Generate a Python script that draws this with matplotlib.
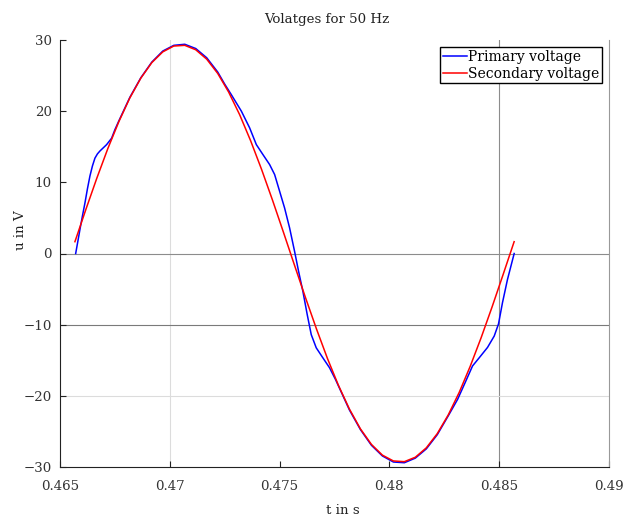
import matplotlib
matplotlib.use("Agg")
import matplotlib.pyplot as plt

plt.rcParams['font.family'] = ['DejaVu Serif']
plt.rcParams['font.size'] = 9.3

# secondary voltage samples (s, V)
t_sec = [0.46568, 0.46618, 0.46668, 0.46718, 0.46768, 0.46818, 0.46868, 0.46918,
         0.46968, 0.47018, 0.47068, 0.47118, 0.47168, 0.47218, 0.47268, 0.47318,
         0.47368, 0.47418, 0.47468, 0.47518, 0.47568, 0.47618, 0.47668, 0.47718,
         0.47768, 0.47818, 0.47868, 0.47918, 0.47968, 0.48018, 0.48068, 0.48118,
         0.48168, 0.48218, 0.48268, 0.48318, 0.48368, 0.48418, 0.48468, 0.48518,
         0.48568]
u_sec = [1.66, 6.21, 10.61, 14.76, 18.53, 21.86, 24.64, 26.82,
         28.33, 29.15, 29.25, 28.63, 27.31, 25.31, 22.68, 19.51,
         15.85, 11.81, 7.47, 2.94, -1.66, -6.21, -10.61, -14.76,
         -18.53, -21.86, -24.64, -26.82, -28.33, -29.15, -29.25, -28.63,
         -27.31, -25.31, -22.68, -19.51, -15.85, -11.81, -7.47, -2.94,
         1.66]

# primary voltage samples (s, V)
t_pri = [0.465714, 0.465818, 0.465909, 0.466023, 0.466136, 0.466250, 0.466364,
         0.466477, 0.466591, 0.466705, 0.466818, 0.467123, 0.467350, 0.467500,
         0.467682, 0.468182, 0.468682, 0.469182, 0.469682, 0.470182, 0.470682,
         0.471182, 0.471682, 0.472182, 0.472500, 0.472805, 0.473259, 0.473636,
         0.473941, 0.474241, 0.474545, 0.474773, 0.475000, 0.475227, 0.475455,
         0.475682, 0.475864, 0.476059, 0.476259, 0.476441, 0.476668, 0.476968,
         0.477273, 0.477545, 0.478182, 0.478682, 0.479182, 0.479682, 0.480182,
         0.480682, 0.481182, 0.481682, 0.482182, 0.482682, 0.483105, 0.483455,
         0.483786, 0.484091, 0.484468, 0.484773, 0.484968, 0.485150, 0.485377,
         0.485682]
u_pri = [0.0, 1.8, 3.4, 5.3, 7.1, 9.1, 10.9,
         12.3, 13.4, 14.0, 14.4, 15.3, 16.2, 17.4,
         18.65, 21.95, 24.7, 26.9, 28.45, 29.25, 29.4,
         28.8, 27.5, 25.5, 23.8, 22.3, 20.0, 17.65,
         15.3, 13.9, 12.5, 11.1, 8.75, 6.4, 3.6,
         0.3, -2.5, -5.3, -8.6, -11.4, -13.25, -14.65,
         -16.05, -17.7, -22.0, -24.75, -26.95, -28.45, -29.3,
         -29.4, -28.75, -27.45, -25.45, -22.8, -20.5, -18.1,
         -15.8, -14.65, -13.2, -11.6, -9.9, -6.9, -3.65,
         0.0]

x_ticks = [0.465, 0.47, 0.475, 0.48, 0.485, 0.49]
x_tick_labels = ['0.465', '0.47', '0.475', '0.48', '0.485', '0.49']
y_ticks = [-30, -20, -10, 0, 10, 20, 30]

fig = plt.figure(figsize=(6.32, 5.17), dpi=100)
ax = fig.add_axes([60 / 632, 1 - 467 / 517, 549 / 632, 427 / 517])

# grid lines as drawn by the export
ax.axvline(0.47, color='#dcdcdc', lw=0.8, zorder=0)
ax.axvline(0.485, color='#8c8c8c', lw=0.8, zorder=0)
ax.axhline(0, color='#8c8c8c', lw=0.8, zorder=0)
ax.axhline(-10, color='#7a7a7a', lw=0.8, zorder=0)
ax.axhline(-20, color='#dcdcdc', lw=0.8, zorder=0)

ax.plot(t_pri, u_pri, color='#0000ff', lw=1.1, label='Primary voltage')
ax.plot(t_sec, u_sec, color='#ff0000', lw=1.1, label='Secondary voltage')

ax.set_xlim(0.465, 0.49)
ax.set_ylim(-30, 30)
ax.set_xticks(x_ticks)
ax.set_xticklabels(x_tick_labels)
ax.set_yticks(y_ticks)
ax.tick_params(direction='in', length=4, width=0.8, color='#222222',
               labelcolor='#333333', labelsize=9.6)
ax.tick_params(axis='x', pad=9)
ax.tick_params(axis='y', pad=6)

ax.spines['top'].set_visible(False)
ax.spines['right'].set_color('#999999')
ax.spines['left'].set_color('#222222')
ax.spines['bottom'].set_color('#222222')

fig.text(327 / 632, 1 - 19 / 517, 'Volatges for 50 Hz', ha='center', va='center',
         color='#222222', fontsize=9.6)
fig.text(343 / 632, 1 - 510 / 517, 't in s', ha='center', va='center',
         color='#222222', fontsize=9.6)
fig.text(21 / 632, 1 - 230 / 517, 'u in V', ha='center', va='center',
         rotation=90, color='#222222', fontsize=9.6)

leg = ax.legend(loc='upper right', bbox_to_anchor=(602 / 632, 1 - 47 / 517),
                bbox_transform=fig.transFigure, fancybox=False,
                edgecolor='black', framealpha=1, borderpad=0.2,
                handlelength=1.7, handletextpad=0.1, labelspacing=0.2,
                borderaxespad=0, fontsize=10)
leg.get_frame().set_linewidth(1.0)

fig.savefig('out.png', dpi=100)
